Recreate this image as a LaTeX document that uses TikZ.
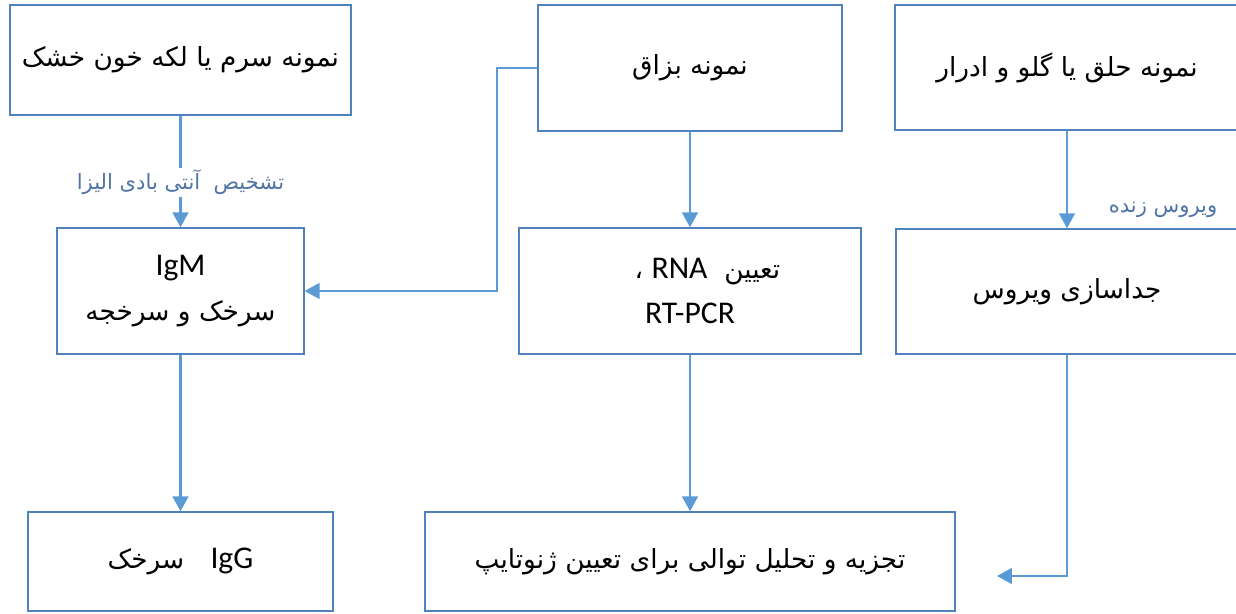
\documentclass[tikz,border=0pt]{standalone}
\usepackage{fontspec}
\setmainfont{Carlito}
\newfontfamily\farsi[Script=Arabic]{DejaVu Sans}
\TeXXeTstate=1
\usepackage{tikz}
\usetikzlibrary{arrows.meta}

\definecolor{boxline}{RGB}{79,129,189}
\definecolor{linkblue}{RGB}{91,155,213}
\definecolor{notetext}{RGB}{80,116,166}

\newcommand{\fatext}[1]{{\farsi\beginR #1\endR}}

\begin{document}
\begin{tikzpicture}[x=0.02cm, y=-0.02cm,
    box/.style={rectangle, draw=boxline, line width=0.8pt, fill=white,
      align=center, inner sep=0pt, font=\fontsize{15}{26}\selectfont},
    link/.style={draw=linkblue, line width=1.2pt,
      -{Triangle[width=9pt, length=8.5pt]}},
    note/.style={text=notetext, font=\fontsize{12}{14}\selectfont, inner sep=1pt}]

  \useasboundingbox (0,0) rectangle (1236,614);
  \clip (0,0) rectangle (1236,614);

  % Define nodes
  \node[box, minimum width=6.82cm, minimum height=2.2cm] (serum) at (180.5,60)
    {\fatext{نمونه سرم یا لکه خون خشک}};
  \node[box, minimum width=6.08cm, minimum height=2.52cm] (saliva) at (690,68)
    {\fatext{نمونه بزاق}};
  \node[box, minimum width=6.88cm, minimum height=2.5cm] (throat) at (1067,67.5)
    {\fatext{نمونه حلق یا گلو و ادرار}};

  % middle row
  \node[box, minimum width=4.94cm, minimum height=2.52cm] (igm) at (180.5,291)
    {\fontsize{18}{26}\selectfont IgM\\ \fatext{سرخک و سرخجه}};
  \node[box, minimum width=6.84cm, minimum height=2.52cm] (rna) at (690,291)
    {\fatext{تعیین \ {\fontsize{18}{26}\selectfont\rmfamily\beginL RNA\endL} ،\hspace{0.7cm}}\\
     {\fontsize{18}{26}\selectfont RT-PCR}};
  \node[box, minimum width=6.84cm, minimum height=2.5cm] (isolate) at (1067,291.5)
    {\fatext{جداسازی ویروس}};

  % bottom row
  \node[box, minimum width=6.1cm, minimum height=1.98cm] (igg) at (180.5,561.5)
    {\fatext{سرخک}\quad{\fontsize{18}{26}\selectfont IgG}};
  \node[box, minimum width=10.6cm, minimum height=1.98cm] (genotype) at (690,561.5)
    {\fatext{تجزیه و تحلیل توالی برای تعیین ژنوتایپ}};

  \node[note] (live) at (1163,210) {\fatext{ویروس زنده}};
  \coordinate (gend) at (997,576);

  \draw[link] (serum) -- node[note, fill=white, pos=0.6] {\fatext{تشخیص \ آنتی بادی الیزا}} (igm);
  \draw[link] (saliva.west) -- ++(-40,0) |- (igm.east);
  \draw[link] (saliva) -- (rna);
  \draw[link] (throat) -- (isolate);

  \draw[link] (igm) -- (igg);
  \draw[link] (rna) -- (genotype);
  \draw[link] (isolate.south) |- (gend);

\end{tikzpicture}
\end{document}
